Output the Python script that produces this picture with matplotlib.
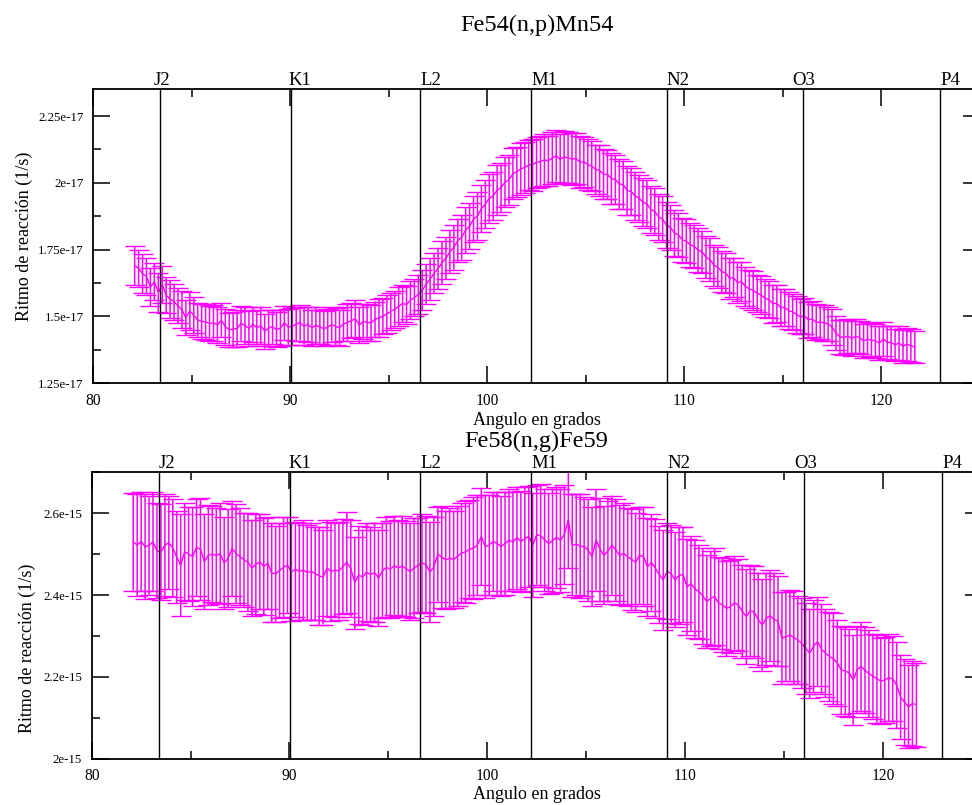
import matplotlib
matplotlib.use('Agg')
import matplotlib.pyplot as plt
from matplotlib.ticker import FixedLocator, FixedFormatter, AutoMinorLocator

plt.rcParams['font.family'] = 'serif'
plt.rcParams['font.serif'] = ['Liberation Serif', 'DejaVu Serif']

# angles (degrees), one measurement every 0.2 deg
ANGLES = [
    82.1, 82.3, 82.5, 82.7, 82.9, 83.1, 83.3, 83.5, 83.7, 83.9,
    84.1, 84.3, 84.5, 84.7, 84.9, 85.1, 85.3, 85.5, 85.7, 85.9,
    86.1, 86.3, 86.5, 86.7, 86.9, 87.1, 87.3, 87.5, 87.7, 87.9,
    88.1, 88.3, 88.5, 88.7, 88.9, 89.1, 89.3, 89.5, 89.7, 89.9,
    90.1, 90.3, 90.5, 90.7, 90.9, 91.1, 91.3, 91.5, 91.7, 91.9,
    92.1, 92.3, 92.5, 92.7, 92.9, 93.1, 93.3, 93.5, 93.7, 93.9,
    94.1, 94.3, 94.5, 94.7, 94.9, 95.1, 95.3, 95.5, 95.7, 95.9,
    96.1, 96.3, 96.5, 96.7, 96.9, 97.1, 97.3, 97.5, 97.7, 97.9,
    98.1, 98.3, 98.5, 98.7, 98.9, 99.1, 99.3, 99.5, 99.7, 99.9,
    100.1, 100.3, 100.5, 100.7, 100.9, 101.1, 101.3, 101.5, 101.7, 101.9,
    102.1, 102.3, 102.5, 102.7, 102.9, 103.1, 103.3, 103.5, 103.7, 103.9,
    104.1, 104.3, 104.5, 104.7, 104.9, 105.1, 105.3, 105.5, 105.7, 105.9,
    106.1, 106.3, 106.5, 106.7, 106.9, 107.1, 107.3, 107.5, 107.7, 107.9,
    108.1, 108.3, 108.5, 108.7, 108.9, 109.1, 109.3, 109.5, 109.7, 109.9,
    110.1, 110.3, 110.5, 110.7, 110.9, 111.1, 111.3, 111.5, 111.7, 111.9,
    112.1, 112.3, 112.5, 112.7, 112.9, 113.1, 113.3, 113.5, 113.7, 113.9,
    114.1, 114.3, 114.5, 114.7, 114.9, 115.1, 115.3, 115.5, 115.7, 115.9,
    116.1, 116.3, 116.5, 116.7, 116.9, 117.1, 117.3, 117.5, 117.7, 117.9,
    118.1, 118.3, 118.5, 118.7, 118.9, 119.1, 119.3, 119.5, 119.7, 119.9,
    120.1, 120.3, 120.5, 120.7, 120.9, 121.1, 121.3, 121.5, 121.7,
]

# Fe54(n,p)Mn54 rate, units of 1e-17 1/s
FE54_RATE = [
    1.690, 1.680, 1.660, 1.650, 1.610, 1.630, 1.590, 1.620, 1.580, 1.565,
    1.555, 1.540, 1.525, 1.495, 1.520, 1.505, 1.487, 1.482, 1.480, 1.474,
    1.476, 1.468, 1.486, 1.462, 1.450, 1.452, 1.456, 1.474, 1.466, 1.455,
    1.470, 1.458, 1.466, 1.445, 1.456, 1.462, 1.450, 1.457, 1.476, 1.461,
    1.462, 1.472, 1.476, 1.464, 1.470, 1.458, 1.466, 1.461, 1.454, 1.460,
    1.470, 1.463, 1.458, 1.472, 1.478, 1.484, 1.492, 1.468, 1.481, 1.479,
    1.476, 1.490, 1.494, 1.502, 1.509, 1.520, 1.526, 1.538, 1.549, 1.544,
    1.561, 1.570, 1.583, 1.598, 1.622, 1.640, 1.662, 1.679, 1.701, 1.718,
    1.742, 1.758, 1.784, 1.797, 1.823, 1.838, 1.864, 1.876, 1.903, 1.921,
    1.942, 1.951, 1.973, 1.982, 2.003, 2.011, 2.034, 2.041, 2.052, 2.058,
    2.066, 2.068, 2.077, 2.079, 2.086, 2.082, 2.093, 2.101, 2.088, 2.097,
    2.094, 2.089, 2.091, 2.078, 2.079, 2.068, 2.062, 2.051, 2.046, 2.032,
    2.031, 2.016, 2.012, 1.996, 1.993, 1.972, 1.968, 1.951, 1.943, 1.928,
    1.921, 1.901, 1.893, 1.872, 1.864, 1.842, 1.833, 1.812, 1.805, 1.787,
    1.782, 1.768, 1.763, 1.748, 1.742, 1.722, 1.713, 1.692, 1.684, 1.668,
    1.663, 1.643, 1.646, 1.627, 1.631, 1.612, 1.603, 1.598, 1.586, 1.581,
    1.568, 1.563, 1.548, 1.549, 1.533, 1.534, 1.521, 1.518, 1.507, 1.499,
    1.502, 1.488, 1.491, 1.478, 1.479, 1.476, 1.472, 1.461, 1.438, 1.424,
    1.421, 1.427, 1.418, 1.426, 1.421, 1.408, 1.416, 1.411, 1.409, 1.401,
    1.416, 1.404, 1.402, 1.394, 1.401, 1.389, 1.396, 1.391, 1.386,
]
FE54_ERR = [
    0.072, 0.070, 0.074, 0.068, 0.071, 0.069, 0.073, 0.070, 0.067, 0.070,
    0.068, 0.066, 0.069, 0.065, 0.071, 0.067, 0.064, 0.066, 0.068, 0.065,
    0.066, 0.069, 0.064, 0.067, 0.063, 0.066, 0.070, 0.065, 0.068, 0.066,
    0.064, 0.067, 0.070, 0.065, 0.068, 0.064, 0.066, 0.069, 0.065, 0.067,
    0.068, 0.064, 0.066, 0.070, 0.065, 0.067, 0.069, 0.064, 0.066, 0.068,
    0.065, 0.069, 0.067, 0.064, 0.068, 0.066, 0.070, 0.067, 0.065, 0.069,
    0.068, 0.066, 0.070, 0.067, 0.071, 0.069, 0.068, 0.072, 0.070, 0.071,
    0.072, 0.070, 0.073, 0.075, 0.074, 0.077, 0.076, 0.078, 0.080, 0.079,
    0.081, 0.083, 0.082, 0.084, 0.086, 0.085, 0.087, 0.089, 0.088, 0.090,
    0.091, 0.090, 0.093, 0.092, 0.094, 0.093, 0.095, 0.094, 0.096, 0.095,
    0.094, 0.097, 0.095, 0.096, 0.098, 0.095, 0.097, 0.096, 0.094, 0.097,
    0.095, 0.096, 0.094, 0.097, 0.093, 0.095, 0.094, 0.092, 0.095, 0.093,
    0.092, 0.094, 0.091, 0.093, 0.090, 0.092, 0.089, 0.091, 0.088, 0.090,
    0.089, 0.087, 0.088, 0.086, 0.087, 0.085, 0.084, 0.086, 0.083, 0.082,
    0.083, 0.081, 0.080, 0.082, 0.079, 0.078, 0.080, 0.077, 0.076, 0.077,
    0.075, 0.076, 0.074, 0.075, 0.073, 0.074, 0.072, 0.073, 0.071, 0.072,
    0.071, 0.070, 0.071, 0.069, 0.070, 0.068, 0.069, 0.067, 0.068, 0.066,
    0.067, 0.068, 0.066, 0.067, 0.065, 0.066, 0.064, 0.066, 0.065, 0.064,
    0.065, 0.063, 0.066, 0.064, 0.063, 0.065, 0.062, 0.064, 0.063, 0.062,
    0.064, 0.062, 0.063, 0.061, 0.063, 0.062, 0.061, 0.062, 0.061,
]

# Fe58(n,g)Fe59 rate, units of 1e-15 1/s
FE58_RATE = [
    2.530, 2.522, 2.531, 2.518, 2.521, 2.530, 2.508, 2.505, 2.522, 2.528,
    2.515, 2.493, 2.473, 2.506, 2.500, 2.494, 2.516, 2.512, 2.482, 2.497,
    2.500, 2.497, 2.501, 2.478, 2.490, 2.514, 2.501, 2.494, 2.486, 2.480,
    2.466, 2.475, 2.481, 2.470, 2.478, 2.454, 2.452, 2.460, 2.468, 2.473,
    2.457, 2.463, 2.458, 2.461, 2.455, 2.458, 2.452, 2.447, 2.444, 2.466,
    2.458, 2.461, 2.459, 2.470, 2.480, 2.465, 2.430, 2.449, 2.444, 2.456,
    2.450, 2.455, 2.442, 2.459, 2.468, 2.463, 2.472, 2.466, 2.471, 2.464,
    2.458, 2.466, 2.472, 2.478, 2.475, 2.456, 2.469, 2.500, 2.493, 2.486,
    2.490, 2.487, 2.495, 2.503, 2.505, 2.512, 2.515, 2.522, 2.543, 2.518,
    2.522, 2.531, 2.526, 2.519, 2.526, 2.534, 2.530, 2.540, 2.531, 2.538,
    2.543, 2.522, 2.547, 2.545, 2.535, 2.526, 2.533, 2.541, 2.534, 2.548,
    2.584, 2.522, 2.524, 2.520, 2.518, 2.510, 2.494, 2.535, 2.512, 2.497,
    2.508, 2.522, 2.510, 2.497, 2.502, 2.493, 2.487, 2.480, 2.497, 2.494,
    2.469, 2.480, 2.465, 2.450, 2.437, 2.458, 2.452, 2.437, 2.448, 2.450,
    2.420, 2.428, 2.415, 2.408, 2.398, 2.384, 2.392, 2.396, 2.380, 2.376,
    2.367, 2.372, 2.381, 2.375, 2.360, 2.347, 2.362, 2.358, 2.340, 2.327,
    2.342, 2.350, 2.340, 2.336, 2.295, 2.298, 2.302, 2.296, 2.290, 2.282,
    2.270, 2.258, 2.275, 2.286, 2.268, 2.258, 2.250, 2.244, 2.234, 2.217,
    2.214, 2.210, 2.192, 2.218, 2.225, 2.216, 2.208, 2.202, 2.195, 2.190,
    2.192, 2.198, 2.195, 2.180, 2.151, 2.138, 2.127, 2.135, 2.132,
]
FE58_ERR = [
    0.119, 0.124, 0.122, 0.128, 0.120, 0.121, 0.116, 0.118, 0.125, 0.113,
    0.120, 0.112, 0.124, 0.118, 0.114, 0.121, 0.119, 0.125, 0.117, 0.122,
    0.118, 0.116, 0.123, 0.112, 0.120, 0.117, 0.121, 0.119, 0.115, 0.120,
    0.118, 0.122, 0.116, 0.119, 0.113, 0.121, 0.117, 0.115, 0.122, 0.118,
    0.120, 0.116, 0.118, 0.122, 0.117, 0.119, 0.114, 0.120, 0.116, 0.118,
    0.121, 0.115, 0.119, 0.117, 0.123, 0.118, 0.113, 0.120, 0.116, 0.119,
    0.117, 0.121, 0.118, 0.116, 0.122, 0.119, 0.120, 0.117, 0.121, 0.118,
    0.119, 0.122, 0.117, 0.120, 0.118, 0.123, 0.121, 0.116, 0.124, 0.120,
    0.122, 0.119, 0.123, 0.121, 0.125, 0.120, 0.124, 0.122, 0.119, 0.126,
    0.123, 0.121, 0.125, 0.122, 0.126, 0.124, 0.121, 0.125, 0.123, 0.127,
    0.124, 0.128, 0.122, 0.126, 0.125, 0.123, 0.127, 0.124, 0.126, 0.121,
    0.118, 0.126, 0.123, 0.127, 0.121, 0.125, 0.122, 0.124, 0.126, 0.120,
    0.123, 0.121, 0.125, 0.122, 0.124, 0.120, 0.123, 0.121, 0.119, 0.122,
    0.120, 0.118, 0.121, 0.119, 0.122, 0.117, 0.120, 0.116, 0.119, 0.117,
    0.118, 0.116, 0.119, 0.115, 0.117, 0.114, 0.116, 0.118, 0.113, 0.115,
    0.116, 0.113, 0.115, 0.112, 0.114, 0.116, 0.111, 0.113, 0.115, 0.112,
    0.113, 0.111, 0.114, 0.110, 0.112, 0.109, 0.111, 0.113, 0.108, 0.110,
    0.111, 0.109, 0.112, 0.108, 0.110, 0.107, 0.109, 0.111, 0.106, 0.108,
    0.109, 0.107, 0.110, 0.106, 0.108, 0.105, 0.107, 0.104, 0.108, 0.106,
    0.105, 0.107, 0.104, 0.106, 0.103, 0.105, 0.102, 0.104, 0.103,
]

# reference positions (vertical lines)
MARK_NAMES = ['J2', 'K1', 'L2', 'M1', 'N2', 'O3', 'P4']
MARK_ANGLES = [83.4, 90.05, 96.6, 102.23, 109.1, 116.0, 123.0]

X_TICKS = [80, 90, 100, 110, 120]
TOP_YTICKS = [1.25e-17, 1.5e-17, 1.75e-17, 2e-17, 2.25e-17]
TOP_YLABELS = ['1.25e-17', '1.5e-17', '1.75e-17', '2e-17', '2.25e-17']
BOT_YTICKS = [2.0e-15, 2.2e-15, 2.4e-15, 2.6e-15]
BOT_YLABELS = ['2e-15', '2.2e-15', '2.4e-15', '2.6e-15']

XLABEL = 'Angulo en grados'
YLABEL = 'Ritmo de reacción (1/s)'
MAGENTA = '#ff00ff'

W, H = 972, 805
fig = plt.figure(figsize=(W / 100, H / 100), dpi=100)

# axes are wider than the figure: right edge is cut off like the original
ax1 = fig.add_axes([93.3 / W, 1 - 383.3 / H, 886.5 / W, 294.0 / H])
ax2 = fig.add_axes([91.7 / W, 1 - 758.7 / H, 890.0 / W, 286.4 / H])


def setup(ax, rate, err, scale, yticks, ylabels, ylim, label_shift, ylab_pos):
    y = [v * scale for v in rate]
    e = [v * scale for v in err]
    line, caps, bars = ax.errorbar(ANGLES, y, yerr=e, color=MAGENTA, ecolor=MAGENTA,
                                   lw=1.0, elinewidth=1.1, capsize=7, capthick=1.0,
                                   zorder=2)
    for b in bars:
        b.set_snap(False)
    for name, a, dx in zip(MARK_NAMES, MARK_ANGLES, label_shift):
        ax.axvline(a, color='black', lw=1.0, zorder=3)
        ax.text(a + dx, 1.0, name, transform=ax.get_xaxis_transform(),
                ha='left', va='bottom', fontsize=13.5)
    ax.set_xlim(80, 125)
    ax.set_ylim(*ylim)
    ax.xaxis.set_major_locator(FixedLocator(X_TICKS))
    ax.xaxis.set_minor_locator(AutoMinorLocator(2))
    ax.yaxis.set_major_locator(FixedLocator(yticks))
    ax.yaxis.set_major_formatter(FixedFormatter(ylabels))
    ax.yaxis.set_minor_locator(AutoMinorLocator(2))
    ax.tick_params(which='both', direction='in', top=True, right=True, width=1.1)
    ax.tick_params(which='major', length=12)
    ax.tick_params(which='minor', length=6)
    ax.tick_params(axis='x', labelsize=11.2, pad=7)
    ax.tick_params(axis='y', labelsize=9.3, pad=7)
    for s in ax.spines.values():
        s.set_linewidth(1.3)
    ax.set_xlabel(XLABEL, fontsize=13, va='center')
    ax.xaxis.set_label_coords(0.5, -0.125)
    ax.set_ylabel(YLABEL, fontsize=13, va='center')
    ax.yaxis.set_label_coords(*ylab_pos)


setup(ax1, FE54_RATE, FE54_ERR, 1e-17, TOP_YTICKS, TOP_YLABELS,
      (1.25e-17, 2.35e-17), [-0.35, -0.15, 0, 0, 0, -0.5, 0], (-0.078, 0.5))
setup(ax2, FE58_RATE, FE58_ERR, 1e-15, BOT_YTICKS, BOT_YLABELS,
      (2.0e-15, 2.7e-15), [0, -0.1, 0, 0, 0, -0.5, 0], (-0.072, 0.387))

fig.text(536.7 / W, 1 - 25 / H, 'Fe54(n,p)Mn54', ha='center', va='center', fontsize=17.5)
fig.text(536.0 / W, 1 - 441.7 / H, 'Fe58(n,g)Fe59', ha='center', va='center', fontsize=17.5)

fig.savefig('out.png', dpi=100)
